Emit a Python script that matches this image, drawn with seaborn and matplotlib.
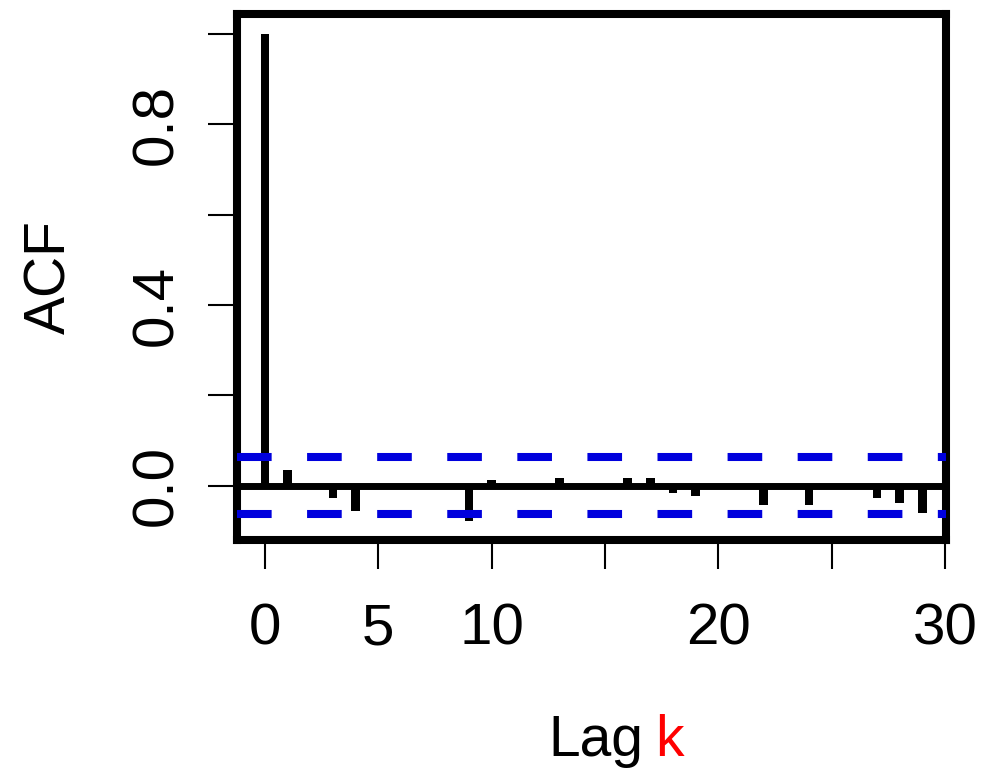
import matplotlib
matplotlib.use("Agg")
import matplotlib.pyplot as plt
import seaborn as sns
import pandas as pd

lags = list(range(0, 31))
acf = [1.0, 0.035, 0.003, -0.027, -0.055, 0.002, -0.003, 0.001, 0.002, -0.078,
       0.012, 0.002, -0.002, 0.018, 0.002, 0.001, 0.018, 0.018, -0.015, -0.022,
       0.002, 0.001, -0.042, 0.002, -0.042, 0.001, 0.002, -0.027, -0.038, -0.06, 0.0]
conf = 0.063
xticks = [0, 5, 10, 15, 20, 25, 30]
xticklabels = ["0", "5", "10", "", "20", "", "30"]
yticks = [0.0, 0.2, 0.4, 0.6, 0.8, 1.0]
yticklabels = ["0.0", "", "0.4", "", "0.8", ""]

sns.set_style("white")
plt.rcParams["font.family"] = ["Liberation Sans", "DejaVu Sans"]
plt.rcParams["text.color"] = "black"
plt.rcParams["xtick.color"] = "black"
plt.rcParams["ytick.color"] = "black"
plt.rcParams["axes.labelcolor"] = "black"

df = pd.DataFrame({"lag": lags, "acf": acf})

fig = plt.figure(figsize=(9.81, 7.7), dpi=100)
ax = fig.add_axes([237 / 981, 1 - 540 / 770, 709 / 981, 526 / 770])

sns.barplot(data=df, x="lag", y="acf", native_scale=True, width=0.38,
            color="black", linewidth=0, saturation=1, ax=ax)

ax.axhline(0, color="black", lw=5, zorder=3)
for v in (conf, -conf):
    ax.axhline(v, color="#0000dd", lw=5.8, dashes=(4.3, 4.4), zorder=4)

ax.set_xlim(-1.24, 30.05)
ax.set_ylim(-0.12, 1.044)
ax.set_xticks(xticks)
ax.set_xticklabels(xticklabels)
ax.set_yticks(yticks)
ax.set_yticklabels(yticklabels, rotation=90, va="center")
ax.tick_params(axis="both", length=21, width=1.5, color="black",
               labelsize=42, direction="out", bottom=True, left=True,
               labelcolor="black")
ax.tick_params(axis="x", pad=24)
ax.tick_params(axis="y", pad=17)
ax.set_xlabel("")
ax.set_ylabel("ACF", fontsize=41, labelpad=38, color="black")

for s in ax.spines.values():
    s.set_visible(True)
    s.set_linewidth(5.8)
    s.set_color("black")

fig.text(643 / 981, 14 / 770, "Lag", ha="right", va="baseline", fontsize=41, color="black")
fig.text(655 / 981, 14 / 770, "k", ha="left", va="baseline", fontsize=41, color="red")

fig.savefig("out.png", dpi=100, facecolor="white")
